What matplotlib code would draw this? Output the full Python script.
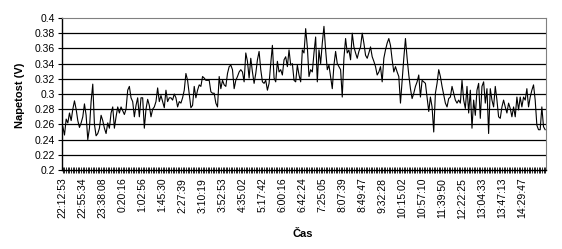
import numpy as np
import matplotlib
matplotlib.use("Agg")
import matplotlib.pyplot as plt

plt.rcParams['font.family'] = ['Liberation Sans', 'DejaVu Sans']

# napetost (V), odcitano s grafa
napetost = [
    0.257, 0.246, 0.267, 0.262, 0.275, 0.265, 0.280, 0.291, 0.280, 0.265,
    0.256, 0.262, 0.270, 0.287, 0.272, 0.240, 0.255, 0.290, 0.313, 0.260,
    0.245, 0.248, 0.255, 0.272, 0.265, 0.255, 0.248, 0.262, 0.255, 0.275,
    0.283, 0.255, 0.270, 0.283, 0.275, 0.283, 0.278, 0.273, 0.280, 0.305,
    0.310, 0.295, 0.290, 0.270, 0.285, 0.295, 0.270, 0.295, 0.295, 0.255,
    0.280, 0.293, 0.285, 0.270, 0.280, 0.283, 0.290, 0.308, 0.290, 0.298,
    0.290, 0.282, 0.305, 0.290, 0.295, 0.295, 0.292, 0.300, 0.295, 0.283,
    0.290, 0.288, 0.295, 0.305, 0.327, 0.318, 0.300, 0.282, 0.285, 0.310,
    0.295, 0.305,
    0.312, 0.310, 0.323, 0.321, 0.318, 0.318, 0.318, 0.303, 0.301, 0.301,
    0.288, 0.283, 0.323, 0.307, 0.318, 0.312, 0.310, 0.327, 0.336, 0.338,
    0.332, 0.307, 0.318, 0.323, 0.329, 0.332, 0.329, 0.316, 0.354, 0.343,
    0.321, 0.347, 0.329, 0.314, 0.327, 0.345, 0.356, 0.332, 0.316, 0.314,
    0.318, 0.305, 0.314, 0.340, 0.364, 0.321, 0.316, 0.343, 0.329, 0.332,
    0.325, 0.345, 0.349, 0.336, 0.358, 0.338, 0.340, 0.318, 0.316, 0.338,
    0.325, 0.316, 0.358, 0.354, 0.386, 0.362, 0.323, 0.332, 0.329, 0.354,
    0.375, 0.316, 0.358, 0.340, 0.367, 0.389, 0.358, 0.332, 0.338, 0.323,
    0.307, 0.338, 0.356, 0.340, 0.336, 0.332, 0.296, 0.347, 0.373, 0.354,
    0.358, 0.345, 0.380, 0.362, 0.354, 0.347, 0.356, 0.362, 0.380, 0.367,
    0.351, 0.347, 0.354, 0.362, 0.349, 0.343, 0.336, 0.325, 0.329, 0.336,
    0.316, 0.347, 0.358, 0.367, 0.373, 0.364, 0.345, 0.329, 0.336, 0.329,
    0.323, 0.288, 0.318, 0.347, 0.373, 0.347, 0.325, 0.307, 0.294, 0.301,
    0.310, 0.316, 0.325, 0.296, 0.318, 0.316, 0.314, 0.296, 0.277, 0.296,
    0.283, 0.250, 0.301, 0.314, 0.332, 0.323, 0.310, 0.299, 0.288, 0.283,
    0.294, 0.296, 0.310, 0.301, 0.292, 0.288, 0.292, 0.288, 0.318, 0.292,
    0.281, 0.310, 0.275, 0.305, 0.255, 0.292, 0.272, 0.305, 0.314, 0.268,
    0.310, 0.316, 0.288, 0.307, 0.248, 0.307, 0.292, 0.283, 0.310, 0.292,
    0.270, 0.268, 0.283, 0.292, 0.283, 0.275, 0.288, 0.281, 0.270, 0.283,
    0.270, 0.296, 0.279, 0.296, 0.283, 0.296, 0.292, 0.307, 0.283, 0.296,
    0.305, 0.312, 0.292, 0.259, 0.253, 0.253, 0.283, 0.257, 0.253,
]

casi = ['22:12:53', '22:55:34', '23:38:08', '0:20:16', '1:02:56', '1:45:30',
        '2:27:39', '3:10:19', '3:52:53', '4:35:02', '5:17:42', '6:00:16',
        '6:42:24', '7:25:05', '8:07:39', '8:49:47', '9:32:28', '10:15:02',
        '10:57:10', '11:39:50', '12:22:25', '13:04:33', '13:47:13', '14:29:47']
korak = 12

y_ticks = [0.2, 0.22, 0.24, 0.26, 0.28, 0.3, 0.32, 0.34, 0.36, 0.38, 0.4]
y_labels = ['0.2', '0.22', '0.24', '0.26', '0.28', '0.3', '0.32', '0.34', '0.36', '0.38', '0.4']

n = len(napetost)
x = np.arange(n) + 0.5

fig = plt.figure(figsize=(5.62, 2.49), dpi=100)
ax = fig.add_axes([62/562, 1-170/249, 484/562, 152/249])

for yv in y_ticks[1:-1]:
    ax.axhline(yv, color='black', lw=0.9, zorder=1)
ax.plot(x, napetost, color='black', lw=0.8, zorder=2)

ax.set_xlim(0, n)
ax.set_ylim(0.2, 0.4)
ax.set_yticks(y_ticks)
ax.set_yticklabels(y_labels, fontsize=7.5)
ax.tick_params(axis='y', direction='out', length=3, width=0.8, pad=2)

ax.set_xticks(x[::korak][:len(casi)])
ax.set_xticklabels(casi, rotation=90, fontsize=7.5)
ax.set_xticks(x, minor=True)
ax.tick_params(axis='x', which='both', direction='inout', length=5, width=0.6, pad=3)

ax.spines['top'].set_color('#808080')
ax.spines['right'].set_color('#808080')
ax.spines['left'].set_linewidth(1.0)
ax.spines['bottom'].set_linewidth(1.0)

fig.text(20/562, 1-95/249, 'Napetost (V)', rotation=90, fontsize=8, fontweight='bold',
         ha='center', va='center')
fig.text(303/562, 1-234/249, 'Čas', fontsize=8, fontweight='bold', ha='center', va='center')

fig.savefig('out.png', dpi=100)
